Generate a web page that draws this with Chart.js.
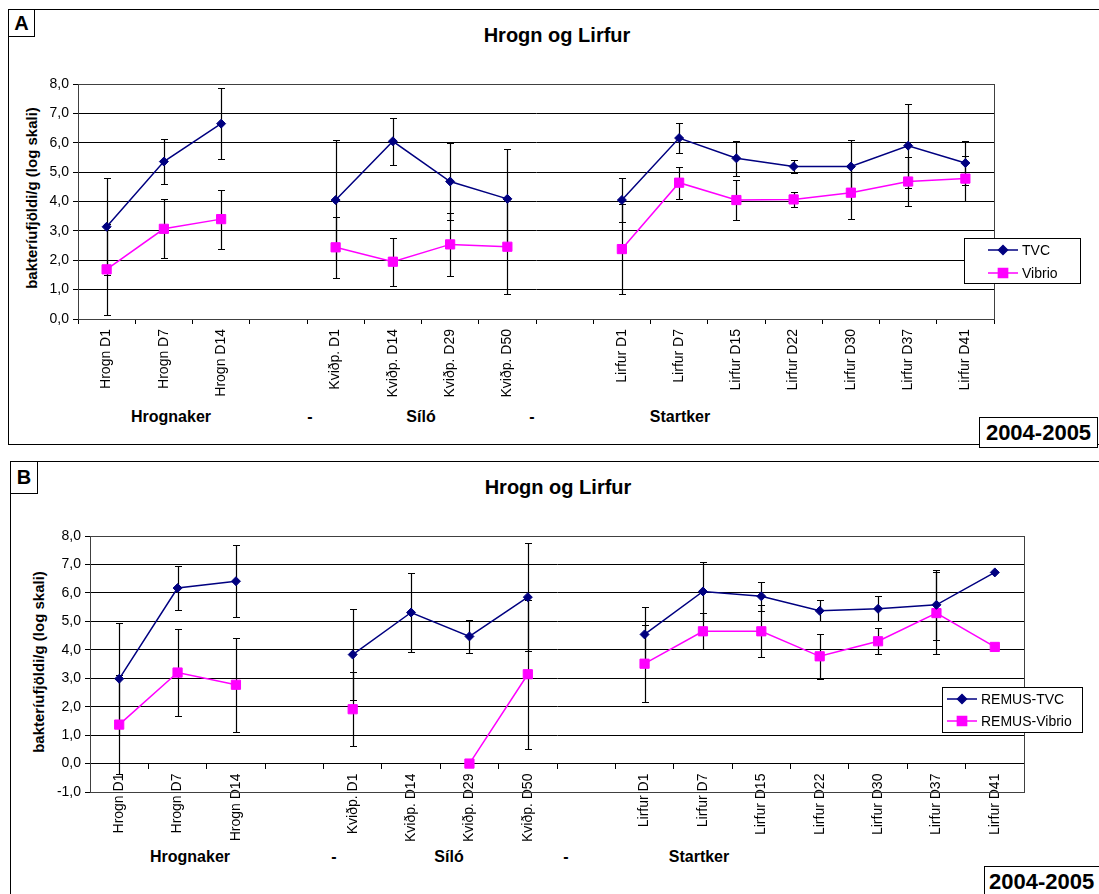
<!DOCTYPE html>
<html>
<head>
<meta charset="utf-8">
<script src="https://cdn.jsdelivr.net/npm/chart.js@4.4.0/dist/chart.umd.min.js"></script>
<style>
  body { margin: 0; background: #fff; font-family: "Liberation Sans", Arial, sans-serif; color: #000; }
  #page { position: relative; width: 1099px; height: 894px; overflow: hidden; }
  .frame { position: absolute; border: 1px solid #000; box-sizing: border-box; }
  .tag { position: absolute; border: 1px solid #000; box-sizing: border-box; background: #fff;
         font-weight: bold; text-align: center; }
  .txt { position: absolute; white-space: nowrap; font-weight: bold; transform: translate(-50%, -50%); }
  .ytitle { position: absolute; white-space: nowrap; font-weight: bold; font-size: 15px;
            transform: translate(-50%, -50%) rotate(-90deg); }
  canvas { position: absolute; left: 0; }
</style>
</head>
<body>
<div id="page">
  <!-- panel A frame -->
  <div class="frame" style="left:8px; top:9px; width:1100px; height:436px;"></div>
  <div class="tag" style="left:8px; top:9px; width:27px; height:28px; font-size:20px; line-height:26px;">A</div>
  <div class="txt" style="left:557px; top:35px; font-size:20px;">Hrogn og Lirfur</div>
  <div class="ytitle" style="left:31px; top:198px;">bakteríufjöldi/g (log skali)</div>
  <div id="groupsA"></div>
  <canvas id="chartA" width="1099" height="450" style="top:0;"></canvas>
  <div class="tag" style="left:979px; top:417px; width:119px; height:31px; font-size:22px; line-height:29px;">2004-2005</div>

  <!-- panel B frame -->
  <div class="frame" style="left:10px; top:461px; width:1100px; height:450px;"></div>
  <div class="tag" style="left:10px; top:461px; width:28px; height:33px; font-size:20px; line-height:31px;">B</div>
  <div class="txt" style="left:558px; top:487px; font-size:20px;">Hrogn og Lirfur</div>
  <div class="ytitle" style="left:38px; top:662px;">bakteríufjöldi/g (log skali)</div>
  <div id="groupsB"></div>
  <canvas id="chartB" width="1099" height="439" style="top:455px;"></canvas>
  <div class="tag" style="left:984px; top:866px; width:130px; height:40px; font-size:22px; line-height:29px; text-align:left; padding-left:4px;">2004-2005</div>
</div>

<script>
// categories - blank slots split the three tanks
const xLabels = ['Hrogn D1', 'Hrogn D7', 'Hrogn D14', '',
                 'Kviðp. D1', 'Kviðp. D14', 'Kviðp. D29', 'Kviðp. D50', '',
                 'Lirfur D1', 'Lirfur D7', 'Lirfur D15', 'Lirfur D22', 'Lirfur D30', 'Lirfur D37', 'Lirfur D41'];
const groupLabels = ['Hrognaker', '-', 'Síló', '-', 'Startker'];

const yTicksA = ['0,0', '1,0', '2,0', '3,0', '4,0', '5,0', '6,0', '7,0', '8,0'];
const yTicksB = ['-1,0', '0,0', '1,0', '2,0', '3,0', '4,0', '5,0', '6,0', '7,0', '8,0'];

// panel A
const tvcA     = [3.14, 5.36, 6.65, null, 4.05, 6.05, 4.68, 4.09, null, 4.05, 6.16, 5.47, 5.19, 5.19, 5.90, 5.31];
const tvcErrA  = [1.65, 0.78, 1.22, null, 2.03, 0.80, 1.32, 1.69, null, 0.76, 0.50, 0.60, 0.22, 0.90, 1.43, 0.75];
const vibA     = [1.69, 3.07, 3.40, null, 2.44, 1.95, 2.54, 2.46, null, 2.38, 4.64, 4.05, 4.07, 4.30, 4.68, 4.78];
const vibErrA  = [1.55, 1.00, 1.00, null, 1.04, 0.82, 1.07, 1.62, null, 1.54, 0.54, 0.69, 0.27, 0.88, 0.82, 0.77];

// panel B
const tvcB     = [2.98, 6.17, 6.41, null, 3.83, 5.31, 4.47, 5.85, null, 4.54, 6.05, 5.88, 5.37, 5.44, 5.58, 6.72];
const tvcErrB  = [1.97, 0.77, 1.27, null, 1.60, 1.38, 0.59, 1.90, null, 0.96, 1.05, 0.51, 0.37, 0.44, 1.23, null];
const vibB     = [1.37, 3.20, 2.77, null, 1.91, null, 0.00, 3.14, null, 3.51, 4.65, 4.65, 3.77, 4.30, 5.29, 4.10];
const vibErrB  = [1.75, 1.52, 1.65, null, 1.31, null, null, 2.62, null, 1.36, 0.63, 0.92, 0.78, 0.46, 1.45, null];

const navy = '#000080';
const pink = '#FF00FF';

Chart.defaults.font.family = '"Liberation Sans", Arial, sans-serif';
Chart.defaults.color = '#000';

// group names under the axis labels
function putGroups(id, xs, y) {
    const box = document.getElementById(id);
    groupLabels.forEach(function(g, i) {
        const d = document.createElement('div');
        d.className = 'txt';
        d.style.left = xs[i] + 'px';
        d.style.top = y + 'px';
        d.style.fontSize = '16px';
        d.textContent = g;
        box.appendChild(d);
    });
}
putGroups('groupsA', [171, 310, 421, 532, 680], 417);
putGroups('groupsB', [190, 334, 449, 566, 699], 857);

// vertical error bars, drawn under the markers
const errorBars = {
    id: 'errorBars',
    beforeDatasetsDraw(chart) {
        const ctx = chart.ctx;
        const y = chart.scales.y;
        ctx.save();
        ctx.strokeStyle = '#000';
        ctx.lineWidth = 1.2;
        chart.data.datasets.forEach(function(ds, i) {
            const meta = chart.getDatasetMeta(i);
            ds.errors.forEach(function(e, j) {
                const v = ds.data[j];
                if (v == null || e == null) return;
                const x = Math.round(meta.data[j].x) + 0.5;
                const top = Math.round(y.getPixelForValue(v + e)) + 0.5;
                const bot = Math.round(y.getPixelForValue(v - e)) + 0.5;
                ctx.beginPath();
                ctx.moveTo(x, top); ctx.lineTo(x, bot);
                ctx.moveTo(x - 3.5, top); ctx.lineTo(x + 3.5, top);
                ctx.moveTo(x - 3.5, bot); ctx.lineTo(x + 3.5, bot);
                ctx.stroke();
            });
        });
        ctx.restore();
    }
};

// grey plot border + the small boxed legend
const plotDecor = {
    id: 'plotDecor',
    beforeDatasetsDraw(chart) {
        const a = chart.chartArea;
        const ctx = chart.ctx;
        ctx.save();
        ctx.strokeStyle = '#404040';
        ctx.lineWidth = 1;
        ctx.strokeRect(Math.round(a.left) + 0.5, Math.round(a.top) + 0.5,
                       Math.round(a.right - a.left), Math.round(a.bottom - a.top));
        ctx.restore();
    },
    afterDraw(chart, args, opts) {
        const ctx = chart.ctx;
        ctx.save();
        ctx.fillStyle = '#fff';
        ctx.fillRect(opts.x, opts.y, opts.w, opts.h);
        ctx.strokeStyle = '#000';
        ctx.lineWidth = 1;
        ctx.strokeRect(opts.x + 0.5, opts.y + 0.5, opts.w, opts.h);
        ctx.font = '14px "Liberation Sans", Arial, sans-serif';
        ctx.textBaseline = 'middle';
        chart.data.datasets.forEach(function(ds, i) {
            const cy = opts.y + opts.row0 + i * opts.rowGap;
            ctx.strokeStyle = ds.borderColor;
            ctx.lineWidth = 1.5;
            ctx.beginPath();
            ctx.moveTo(opts.x + opts.lx0, cy);
            ctx.lineTo(opts.x + opts.lx1, cy);
            ctx.stroke();
            const mx = opts.x + (opts.lx0 + opts.lx1) / 2;
            Chart.helpers.drawPoint(ctx, {pointStyle: ds.pointStyle, radius: ds.pointRadius, borderWidth: 1}, mx, cy);
            ctx.fillStyle = ds.borderColor;
            ctx.fill();
            ctx.fillStyle = '#000';
            ctx.fillText(ds.label, opts.x + opts.lx1 + 4, cy + 1);
        });
        ctx.restore();
    }
};

function makeChart(id, cfg) {
    return new Chart(document.getElementById(id), {
        type: 'line',
        data: {
            labels: xLabels,
            datasets: [
                {
                    label: cfg.names[0], data: cfg.tvc, errors: cfg.tvcErr,
                    borderColor: navy, backgroundColor: navy, borderWidth: 1.5,
                    pointStyle: 'rectRot', pointRadius: 4.5, pointBorderWidth: 1
                },
                {
                    label: cfg.names[1], data: cfg.vib, errors: cfg.vibErr,
                    borderColor: pink, backgroundColor: pink, borderWidth: 1.5,
                    pointStyle: 'rect', pointRadius: 6.5, pointBorderWidth: 1
                }
            ]
        },
        options: {
            responsive: false,
            animation: false,
            layout: { padding: cfg.padding },
            plugins: {
                legend: { display: false },
                tooltip: { enabled: false },
                plotDecor: cfg.legend
            },
            scales: {
                x: {
                    position: cfg.xPos,
                    offset: true,
                    afterFit: function(scale) { if (cfg.xHeight) scale.height = cfg.xHeight; },
                    border: { color: '#000' },
                    grid: { offset: true, drawOnChartArea: false, color: '#000', tickLength: 5 },
                    ticks: {
                        autoSkip: false, minRotation: 90, maxRotation: 90, padding: 5,
                        font: { size: 14 }, color: '#000'
                    }
                },
                y: {
                    min: cfg.yMin, max: 8,
                    afterFit: function(scale) { scale.width = cfg.yWidth; },
                    border: { color: '#000' },
                    grid: { color: '#000', tickLength: 5 },
                    ticks: {
                        stepSize: 1, padding: 4, font: { size: 14 }, color: '#000',
                        callback: function(v, i) { return cfg.yTicks[i]; }
                    }
                }
            }
        },
        plugins: [errorBars, plotDecor]
    });
}

makeChart('chartA', {
    names: ['TVC', 'Vibrio'],
    tvc: tvcA, tvcErr: tvcErrA, vib: vibA, vibErr: vibErrA,
    yMin: 0, yTicks: yTicksA, yWidth: 78,
    xPos: 'bottom', xHeight: 131,
    padding: { left: 0, top: 84, right: 105, bottom: 0 },
    legend: { x: 964, y: 238, w: 116, h: 45, lx0: 24, lx1: 54, row0: 12, rowGap: 23 }
});

makeChart('chartB', {
    names: ['REMUS-TVC', 'REMUS-Vibrio'],
    tvc: tvcB, tvcErr: tvcErrB, vib: vibB, vibErr: vibErrB,
    yMin: -1, yTicks: yTicksB, yWidth: 90,
    xPos: { y: 0 }, xHeight: null,
    padding: { left: 0, top: 81, right: 75, bottom: 102 },
    legend: { x: 942, y: 232, w: 140, h: 45, lx0: 5, lx1: 35, row0: 12, rowGap: 22 }
});
</script>
</body>
</html>
